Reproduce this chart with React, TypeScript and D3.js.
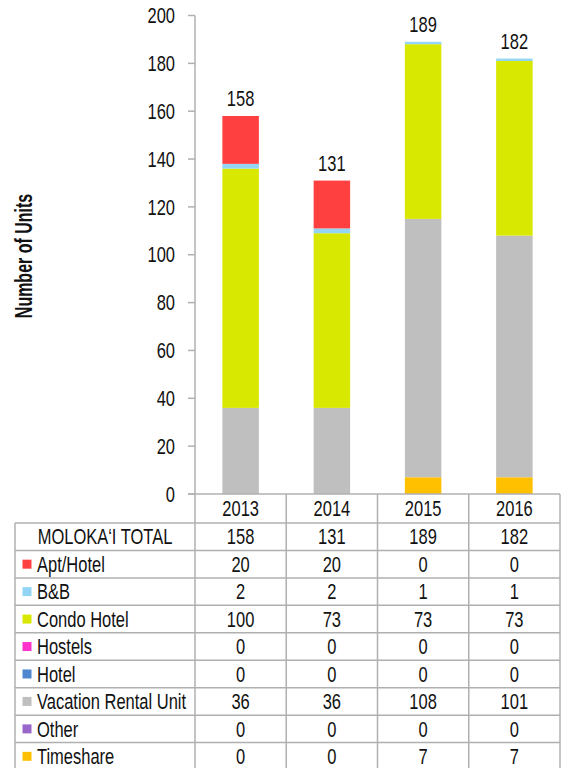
import { useMemo } from "react";
import { scaleBand, scaleLinear, stack, sum } from "d3";

// chart data
const years = ["2013", "2014", "2015", "2016"];
const seriesNames = [
    "Apt/Hotel",
    "B&B",
    "Condo Hotel",
    "Hostels",
    "Hotel",
    "Vacation Rental Unit",
    "Other",
    "Timeshare",
];
const seriesColors = [
    "#FF4040",
    "#92D5F5",
    "#D9E800",
    "#FF33CC",
    "#4F86D0",
    "#BFBFBF",
    "#9966CC",
    "#FFC000",
];
const aptHotel = [20, 20, 0, 0];
const bAndB = [2, 2, 1, 1];
const condoHotel = [100, 73, 73, 73];
const hostels = [0, 0, 0, 0];
const hotel = [0, 0, 0, 0];
const vacationRental = [36, 36, 108, 101];
const other = [0, 0, 0, 0];
const timeshare = [0, 0, 7, 7];
const seriesValues = [aptHotel, bAndB, condoHotel, hostels, hotel, vacationRental, other, timeshare];
const yTicks = [0, 20, 40, 60, 80, 100, 120, 140, 160, 180, 200];
const totalLabel = "MOLOKA\u2018I TOTAL";

const W = 561;
const H = 768;
const FONT = "'Liberation Sans', Arial, sans-serif";
const GRID = "#B0B0B0";
const FS = 16.5;
const STRETCH = 1.3; // glyphs in the source are taller than they are wide
const CAP = 0.716 * FS * STRETCH;

// text drawn with its baseline at (x, y), stretched vertically
const T = ({ x, y, anchor = "middle", children }: any) => (
    <text
        transform={`translate(${x},${y}) scale(1,${STRETCH})`}
        textAnchor={anchor}
        fontSize={FS}
        fill="#111"
    >
        {children}
    </text>
);

export default function App() {
    const plotLeft = 195;
    const plotRight = 560;
    const plotTop = 15.5;
    const plotBottom = 494;
    const tableLeft = 15;
    const headerBottom = 523;
    const rowH = 27.45;

    const x = scaleBand<string>().domain(years).range([plotLeft, plotRight]).padding(0);
    const y = scaleLinear().domain([0, 200]).range([plotBottom, plotTop]);
    const barW = x.bandwidth() * 0.4;
    const cx = (yr: string) => (x(yr) as number) + x.bandwidth() / 2;

    // one object per year, stacked bottom (timeshare) to top (apt/hotel)
    const rows = useMemo(
        () =>
            years.map((yr, i) => {
                const r: Record<string, any> = { year: yr };
                seriesNames.forEach((s, k) => (r[s] = seriesValues[k][i]));
                return r;
            }),
        []
    );
    const stackOrder = [...seriesNames].reverse();
    const stacked = stack<any>().keys(stackOrder)(rows);
    const totals = years.map((_, i) => sum(seriesValues, (v) => v[i]));

    const tableRows = [totalLabel, ...seriesNames];
    const rowScale = scaleBand<string>()
        .domain(tableRows)
        .range([headerBottom, headerBottom + rowH * tableRows.length]);
    const tableBottom = rowScale.range()[1];

    return (
        <svg
            width={W}
            height={H}
            style={{ position: "absolute", left: 0, top: 0, background: "#fff" }}
            fontFamily={FONT}
        >
            {/* y axis title */}
            <text
                transform={`translate(32,256) rotate(-90) scale(1,1.45)`}
                textAnchor="middle"
                fontSize={16}
                fontWeight="bold"
                fill="#111"
            >
                Number of Units
            </text>

            {/* bars */}
            {stacked.map((layer) => {
                const ci = seriesNames.indexOf(layer.key);
                return (
                    <g key={layer.key} fill={seriesColors[ci]}>
                        {layer.map((d, i) =>
                            d[1] - d[0] > 0 ? (
                                <rect
                                    key={i}
                                    x={cx(years[i]) - barW / 2}
                                    y={y(d[1])}
                                    width={barW}
                                    height={y(d[0]) - y(d[1])}
                                />
                            ) : null
                        )}
                    </g>
                );
            })}

            {/* total labels above bars */}
            {years.map((yr, i) => (
                <T key={yr} x={cx(yr)} y={y(totals[i]) - 10}>
                    {totals[i]}
                </T>
            ))}

            {/* y axis */}
            <line x1={plotLeft} x2={plotLeft} y1={plotTop} y2={plotBottom} stroke={GRID} strokeWidth={1.5} />
            {yTicks.map((t) => (
                <g key={t}>
                    <line x1={plotLeft - 7} x2={plotLeft} y1={y(t)} y2={y(t)} stroke={GRID} strokeWidth={1.5} />
                    <T x={plotLeft - 20} y={y(t) + CAP / 2} anchor="end">
                        {t}
                    </T>
                </g>
            ))}

            {/* data table grid */}
            <g stroke={GRID} strokeWidth={1.5}>
                <line x1={plotLeft - 7} x2={plotRight} y1={plotBottom} y2={plotBottom} />
                {tableRows.map((r) => (
                    <line key={r} x1={tableLeft} x2={plotRight} y1={rowScale(r)} y2={rowScale(r)} />
                ))}
                <line x1={tableLeft} x2={plotRight} y1={tableBottom} y2={tableBottom} />
                <line x1={tableLeft} x2={tableLeft} y1={headerBottom} y2={tableBottom} />
                {years.map((yr) => (
                    <line key={yr} x1={x(yr)} x2={x(yr)} y1={plotBottom} y2={tableBottom} />
                ))}
                <line x1={plotRight} x2={plotRight} y1={plotBottom} y2={tableBottom} />
            </g>

            {/* header years */}
            {years.map((yr) => (
                <T key={yr} x={cx(yr)} y={(plotBottom + headerBottom) / 2 + CAP / 2}>
                    {yr}
                </T>
            ))}

            {/* row labels and values */}
            {tableRows.map((r, ri) => {
                const cy = (rowScale(r) as number) + rowScale.bandwidth() / 2;
                const base = cy + CAP / 2;
                const vals = ri === 0 ? totals : seriesValues[ri - 1];
                return (
                    <g key={r}>
                        {ri === 0 ? (
                            <T x={(tableLeft + plotLeft) / 2} y={base}>
                                {r}
                            </T>
                        ) : (
                            <>
                                <rect x={22.5} y={cy - 4.5} width={9} height={9} fill={seriesColors[ri - 1]} />
                                <T x={37} y={base} anchor="start">
                                    {r}
                                </T>
                            </>
                        )}
                        {vals.map((v, i) => (
                            <T key={i} x={cx(years[i])} y={base}>
                                {v}
                            </T>
                        ))}
                    </g>
                );
            })}
        </svg>
    );
}
